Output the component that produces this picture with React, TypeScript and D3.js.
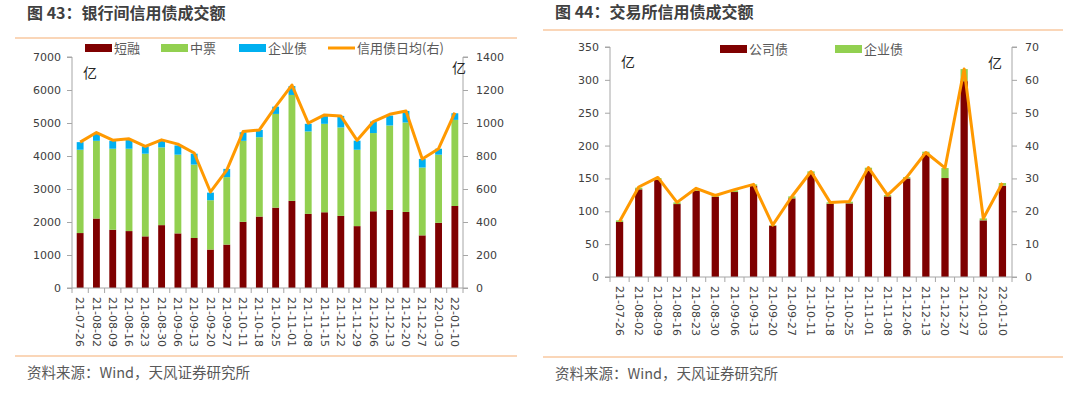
import React, { useEffect, useRef } from "react";
import * as d3 from "d3";

// 图43 银行间
const bankDates = [
  "21-07-26", "21-08-02", "21-08-09", "21-08-16", "21-08-23", "21-08-30",
  "21-09-06", "21-09-13", "21-09-20", "21-09-27", "21-10-11", "21-10-18",
  "21-10-25", "21-11-01", "21-11-08", "21-11-15", "21-11-22", "21-11-29",
  "21-12-06", "21-12-13", "21-12-20", "21-12-27", "22-01-03", "22-01-10",
];
const shortNotes = [1665, 2105, 1765, 1725, 1565, 1905, 1655, 1515, 1165, 1315, 2005, 2165, 2435, 2640, 2245, 2295, 2185, 1875, 2325, 2365, 2305, 1595, 1975, 2485];
const midNotes = [2525, 2355, 2455, 2495, 2505, 2355, 2385, 2225, 1495, 2045, 2455, 2405, 2840, 3210, 2500, 2680, 2680, 2315, 2370, 2560, 2710, 2055, 2065, 2610];
const bankEnterprise = [230, 230, 240, 270, 220, 210, 280, 330, 230, 250, 260, 220, 220, 270, 230, 250, 350, 275, 350, 300, 350, 260, 180, 200];
const bankDailyAvg = [884, 942, 896, 904, 858, 898, 872, 818, 582, 714, 948, 958, 1099, 1230, 999, 1049, 1043, 895, 1009, 1053, 1073, 782, 844, 1063];

// 图44 交易所
const exDates = [
  "21-07-26", "21-08-02", "21-08-09", "21-08-16", "21-08-23", "21-08-30",
  "21-09-06", "21-09-13", "21-09-20", "21-09-27", "21-10-11", "21-10-18",
  "21-10-25", "21-11-01", "21-11-08", "21-12-06", "21-12-13", "21-12-20",
  "21-12-27", "22-01-03", "22-01-10",
];
const corpBonds = [83.7, 133.4, 148, 111, 131.3, 122.2, 129.3, 138.4, 78.1, 119.7, 157, 111.5, 112, 161.3, 122.7, 150, 187.6, 150.6, 298, 86.2, 139];
const exEnterprise = [2.5, 2.5, 2.6, 2.6, 2.6, 2, 2.5, 2.6, 1, 3, 3.8, 2.1, 2.6, 5, 2, 2, 3.1, 15.2, 18.4, 3, 4];
const exDailyAvg = [16.9, 27.4, 30.3, 22.7, 27.0, 24.8, 26.6, 28.2, 15.8, 24.5, 32.1, 22.7, 23.0, 33.3, 24.9, 30.4, 37.9, 33.2, 63.3, 17.8, 28.6];

const DARK_RED = "#7F0000";
const GREEN = "#92D050";
const BLUE = "#00B0F0";
const ORANGE = "#FF9900";
const RULE = "#F9C9A0";
const AXIS = "#A6A6A6";
const TEXT = "#404040";
const NUM_FONT = "'DejaVu Sans', sans-serif";
const CJK_FONT = "'Noto Sans CJK SC', sans-serif";

type Series = { name: string; values: number[]; color: string };

type ChartConfig = {
  title: string;
  titleX: number;
  titleY: number;
  ruleY: number;
  ruleX: [number, number];
  footY: number;
  left: number;
  right: number;
  top: number;
  bottom: number;
  dates: string[];
  series: Series[];
  line: { name: string; values: number[] };
  yMax: number;
  yStep: number;
  y2Max: number;
  y2Step: number;
  barFrac: number;
  legend: { x: number; label: string; kind: "rect" | "line"; color: string }[];
  legendY: number;
  unitLeft: [number, number];
  unitRight: [number, number];
};

const drawChart = (g: any, c: ChartConfig) => {
  g.append("text")
    .attr("x", c.titleX)
    .attr("y", c.titleY)
    .attr("font-family", CJK_FONT)
    .attr("font-weight", "bold")
    .attr("font-size", 16)
    .attr("fill", TEXT)
    .text(c.title);
  g.append("line")
    .attr("x1", c.ruleX[0]).attr("x2", c.ruleX[1])
    .attr("y1", c.ruleY).attr("y2", c.ruleY)
    .attr("stroke", RULE).attr("stroke-width", 1.5);
  g.append("line")
    .attr("x1", c.ruleX[0]).attr("x2", c.ruleX[1])
    .attr("y1", c.footY).attr("y2", c.footY)
    .attr("stroke", RULE).attr("stroke-width", 1.5);
  g.append("text")
    .attr("x", c.titleX)
    .attr("y", c.footY + 22)
    .attr("font-family", CJK_FONT)
    .attr("font-size", 14.5)
    .attr("fill", "#595959")
    .text("资料来源：Wind，天风证券研究所");

  const x = d3.scaleBand().domain(c.dates).range([c.left, c.right]);
  const y = d3.scaleLinear().domain([0, c.yMax]).range([c.bottom, c.top]);
  const y2 = d3.scaleLinear().domain([0, c.y2Max]).range([c.bottom, c.top]);

  // stacked bars
  const rows = c.dates.map((d, i) => {
    const row: any = { date: d };
    c.series.forEach((s) => (row[s.name] = s.values[i]));
    return row;
  });
  const stack = d3.stack().keys(c.series.map((s) => s.name))(rows);
  const bw = x.bandwidth() * c.barFrac;
  stack.forEach((layer: any, li: number) => {
    g.append("g")
      .selectAll("rect")
      .data(layer)
      .join("rect")
      .attr("x", (d: any) => x(d.data.date)! + (x.bandwidth() - bw) / 2)
      .attr("y", (d: any) => y(d[1]))
      .attr("width", bw)
      .attr("height", (d: any) => y(d[0]) - y(d[1]))
      .attr("fill", c.series[li].color);
  });

  // axes
  const fmt = d3.format("d");
  const leftAxis = d3.axisLeft(y).tickValues(d3.range(0, c.yMax + 1, c.yStep)).tickFormat(fmt).tickSize(5).tickPadding(6);
  const rightAxis = d3.axisRight(y2).tickValues(d3.range(0, c.y2Max + 1, c.y2Step)).tickFormat(fmt).tickSize(5).tickPadding(8);
  const styleAxis = (ag: any) => {
    ag.select(".domain").attr("stroke", AXIS);
    ag.selectAll(".tick line").attr("stroke", AXIS);
    ag.selectAll("text").attr("font-family", NUM_FONT).attr("font-size", 11).attr("fill", TEXT);
  };
  g.append("g").attr("transform", `translate(${c.left},0)`).call(leftAxis).call(styleAxis)
    .select(".domain").attr("d", `M-5,${c.top}H0V${c.bottom}H-5`);
  g.append("g").attr("transform", `translate(${c.right},0)`).call(rightAxis).call(styleAxis)
    .select(".domain").attr("d", `M5,${c.top}H0V${c.bottom}H5`);

  const xg = g.append("g").attr("transform", `translate(0,${c.bottom})`);
  xg.append("line").attr("x1", c.left).attr("x2", c.right).attr("stroke", AXIS);
  xg.selectAll("line.tk")
    .data(d3.range(c.dates.length + 1))
    .join("line")
    .attr("class", "tk")
    .attr("x1", (i: number) => c.left + i * x.step())
    .attr("x2", (i: number) => c.left + i * x.step())
    .attr("y1", 0).attr("y2", 5)
    .attr("stroke", AXIS);
  xg.selectAll("text")
    .data(c.dates)
    .join("text")
    .attr("transform", (d: string) => `translate(${x(d)! + x.bandwidth() / 2},9) rotate(90)`)
    .attr("dy", "0.35em")
    .attr("font-family", NUM_FONT)
    .attr("font-size", 11)
    .attr("fill", TEXT)
    .text((d: string) => d);

  // line on right axis
  const lineGen = d3.line<number>()
    .x((_, i) => x(c.dates[i])! + x.bandwidth() / 2)
    .y((v) => y2(v));
  g.append("path")
    .datum(c.line.values)
    .attr("d", lineGen)
    .attr("fill", "none")
    .attr("stroke", ORANGE)
    .attr("stroke-width", 3)
    .attr("stroke-linejoin", "round");

  // units
  [c.unitLeft, c.unitRight].forEach(([ux, uy]) => {
    g.append("text")
      .attr("x", ux).attr("y", uy)
      .attr("dy", "0.35em")
      .attr("font-family", CJK_FONT)
      .attr("font-size", 14)
      .attr("fill", "#262626")
      .text("亿");
  });

  // legend
  c.legend.forEach((l) => {
    if (l.kind === "rect") {
      g.append("rect").attr("x", l.x).attr("y", c.legendY - 4).attr("width", 27).attr("height", 8).attr("fill", l.color);
    } else {
      g.append("line").attr("x1", l.x).attr("x2", l.x + 27).attr("y1", c.legendY).attr("y2", c.legendY)
        .attr("stroke", l.color).attr("stroke-width", 3);
    }
    g.append("text")
      .attr("x", l.x + 29).attr("y", c.legendY)
      .attr("dy", "0.35em")
      .attr("font-family", CJK_FONT)
      .attr("font-size", 13)
      .attr("fill", "#595959")
      .text(l.label);
  });
};

const App = () => {
  const svgRef = useRef<SVGSVGElement>(null);

  useEffect(() => {
    const svg = d3.select(svgRef.current);
    svg.selectAll("*").remove();

    drawChart(svg.append("g"), {
      title: "图 43：银行间信用债成交额",
      titleX: 27, titleY: 19, ruleY: 38, ruleX: [15, 517], footY: 356,
      left: 72, right: 463, top: 57, bottom: 288,
      dates: bankDates,
      series: [
        { name: "短融", values: shortNotes, color: DARK_RED },
        { name: "中票", values: midNotes, color: GREEN },
        { name: "企业债", values: bankEnterprise, color: BLUE },
      ],
      line: { name: "信用债日均(右)", values: bankDailyAvg },
      yMax: 7000, yStep: 1000, y2Max: 1400, y2Step: 200,
      barFrac: 0.42,
      legend: [
        { x: 85, label: "短融", kind: "rect", color: DARK_RED },
        { x: 161, label: "中票", kind: "rect", color: GREEN },
        { x: 239, label: "企业债", kind: "rect", color: BLUE },
        { x: 328, label: "信用债日均(右)", kind: "line", color: ORANGE },
      ],
      legendY: 48,
      unitLeft: [83, 73],
      unitRight: [452, 68],
    });

    drawChart(svg.append("g"), {
      title: "图 44：交易所信用债成交额",
      titleX: 555, titleY: 18, ruleY: 30, ruleX: [543, 1063], footY: 357,
      left: 610, right: 1012, top: 47, bottom: 277,
      dates: exDates,
      series: [
        { name: "公司债", values: corpBonds, color: DARK_RED },
        { name: "企业债", values: exEnterprise, color: GREEN },
      ],
      line: { name: "信用债日均", values: exDailyAvg },
      yMax: 350, yStep: 50, y2Max: 70, y2Step: 10,
      barFrac: 0.38,
      legend: [
        { x: 720, label: "公司债", kind: "rect", color: DARK_RED },
        { x: 835, label: "企业债", kind: "rect", color: GREEN },
      ],
      legendY: 49,
      unitLeft: [621, 62],
      unitRight: [988, 63],
    });
  }, []);

  return (
    <svg
      ref={svgRef}
      width={1080}
      height={394}
      style={{ position: "absolute", left: 0, top: 0, background: "#fff" }}
    ></svg>
  );
};

export default App;
